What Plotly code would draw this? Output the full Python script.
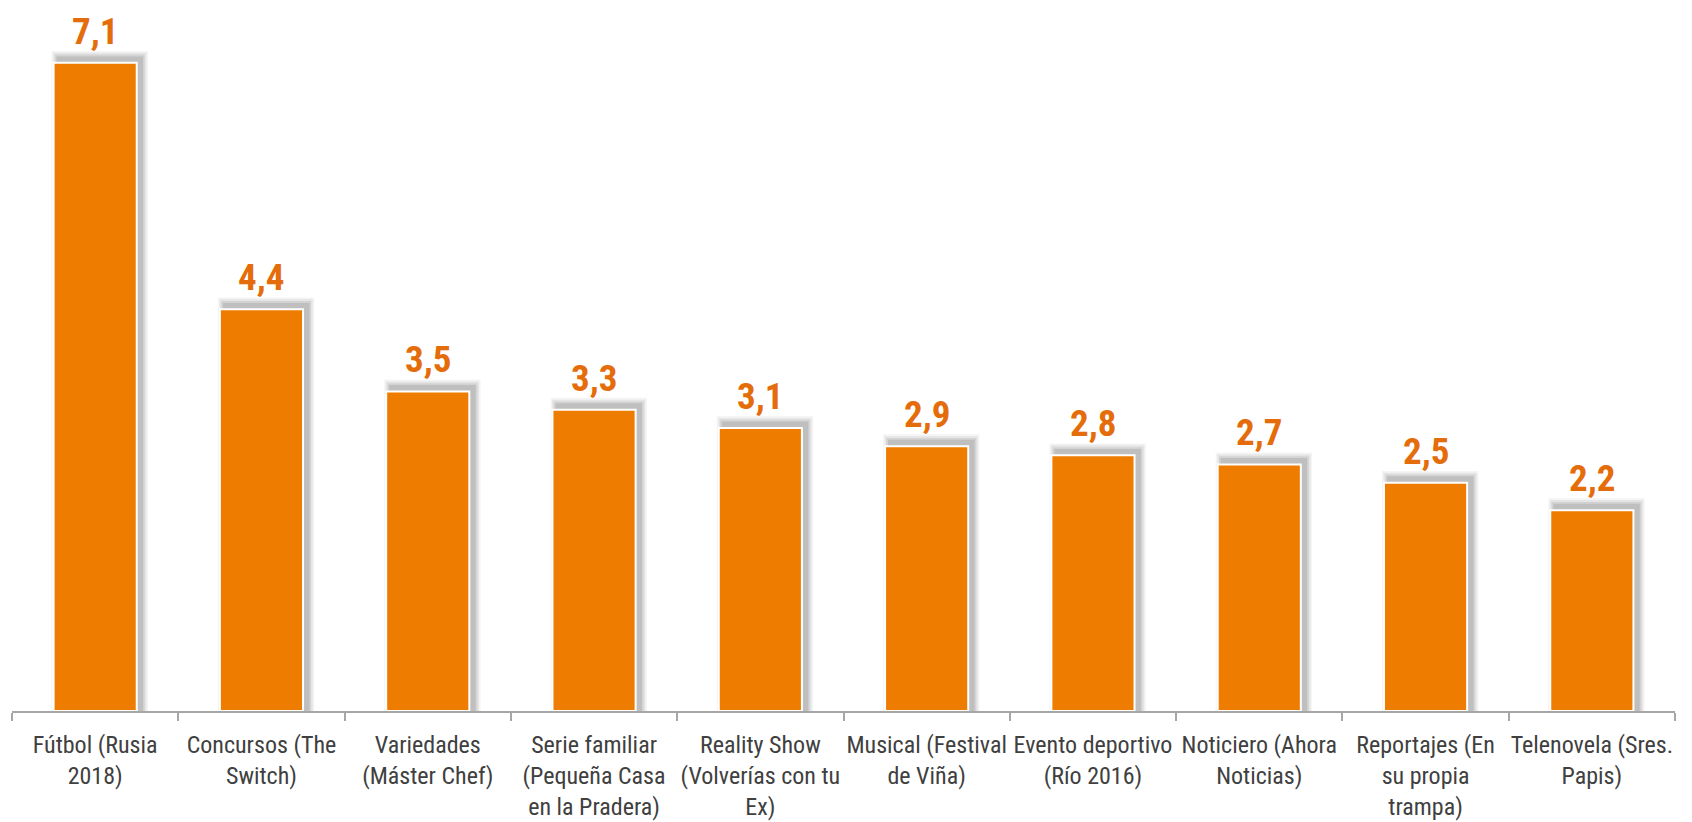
import plotly.graph_objects as go

categories = [
    "Fútbol (Rusia<br>2018)",
    "Concursos (The<br>Switch)",
    "Variedades<br>(Máster Chef)",
    "Serie familiar<br>(Pequeña Casa<br>en la Pradera)",
    "Reality Show<br>(Volverías con tu<br>Ex)",
    "Musical (Festival<br>de Viña)",
    "Evento deportivo<br>(Río 2016)",
    "Noticiero (Ahora<br>Noticias)",
    "Reportajes (En<br>su propia<br>trampa)",
    "Telenovela (Sres.<br>Papis)",
]
values = [7.1, 4.4, 3.5, 3.3, 3.1, 2.9, 2.8, 2.7, 2.5, 2.2]
value_labels = [f"{v:.1f}".replace(".", ",") for v in values]

BAR_COLOR = "#EE7C00"
LABEL_COLOR = "#E56C0A"
FONT = "Liberation Sans Narrow, Arial Narrow, Roboto Condensed, DejaVu Sans Condensed, sans-serif"

BAR_W = 0.5
# soft drop shadow (up-right), built from the same data
DX, DY = 0.028, 0.05
SX, SY = 0.01, 0.02

fig = go.Figure()
for k, op in [(4, 0.06), (3, 0.08), (2, 0.10), (1, 0.13)]:
    fig.add_trace(go.Bar(
        x=categories,
        y=[v + DY + k * SY for v in values],
        width=BAR_W + 2 * k * SX,
        offset=-BAR_W / 2 + DX - k * SX,
        marker=dict(color=f"rgba(60,60,60,{op})", line=dict(width=0)),
        hoverinfo="skip",
        showlegend=False,
    ))

fig.add_trace(go.Bar(
    x=categories,
    y=values,
    width=BAR_W,
    offset=-BAR_W / 2,
    marker=dict(color=BAR_COLOR, line=dict(color="white", width=2)),
    showlegend=False,
))

for c, v, t in zip(categories, values, value_labels):
    fig.add_annotation(
        x=c, y=v, text=f"<b>{t}</b>", showarrow=False,
        yanchor="bottom", yshift=9, borderpad=0,
        font=dict(family=FONT, size=37, color=LABEL_COLOR),
    )

fig.update_layout(
    width=1684, height=814,
    margin=dict(l=4, r=17, t=0, b=111),
    paper_bgcolor="white", plot_bgcolor="white",
    barmode="overlay",
    font=dict(family=FONT, size=24, color="#404040"),
)
fig.update_xaxes(
    type="category",
    showline=True, linecolor="#A6A6A6", linewidth=1.5,
    ticks="outside", tickson="boundaries", ticklen=8, tickcolor="#A6A6A6", tickwidth=1.5,
    showgrid=False,
    tickfont=dict(family=FONT, size=24, color="#404040"),
    tickangle=0,
    ticklabelstandoff=11,
    automargin=False,
)
fig.update_yaxes(range=[0, 7.70], visible=False, showgrid=False, zeroline=False)

fig.write_html("out.html")
